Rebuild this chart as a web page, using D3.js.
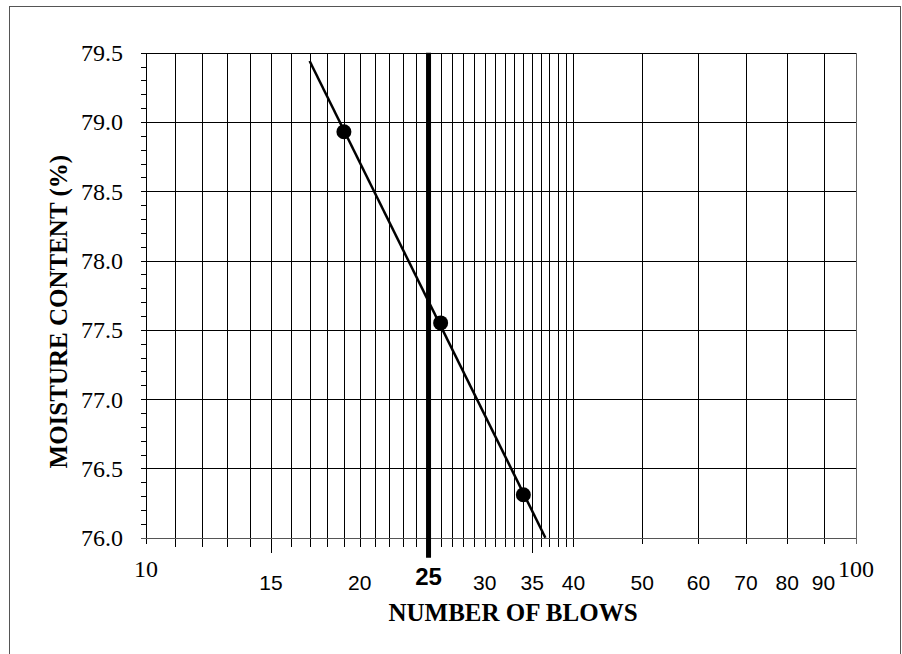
<!DOCTYPE html>
<html>
<head>
<meta charset="utf-8">
<script src="https://d3js.org/d3.v7.min.js"></script>
<style>
    body { margin: 0; background: #fff; }
    .serif { font-family: "Liberation Serif", "Times New Roman", serif; }
    .sans { font-family: "Liberation Sans", Arial, sans-serif; }
    .grid line { stroke: #000; stroke-width: 1px; shape-rendering: crispEdges; }
</style>
</head>
<body>
<svg id="chart" width="902" height="654"></svg>
<script>
    // liquid limit test: blows vs moisture content
    const blows = [19.0, 26.0, 34.0];
    const moisture = [78.93, 77.55, 76.31];

    // vertical grid lines on the semi-log paper
    const gridBlows = [11, 12, 13, 14, 15, 16, 17, 18, 19, 20, 21, 22, 23, 24, 25, 26, 27, 28, 29, 30,
                       31, 32, 33, 34, 35, 36, 37, 38, 39, 40, 50, 60, 70, 80, 90];
    const longTickBlows = [15, 35];
    const xLabelsSans = [15, 20, 30, 35, 40, 50, 60, 70, 80, 90];
    const xLabelsSerif = [10, 100];
    const refBlows = 25;
    const yMajor = [76.0, 76.5, 77.0, 77.5, 78.0, 78.5, 79.0, 79.5];
    const trendStart = 17;
    const trendFloor = 76.0;

    const svg = d3.select("#chart");
    const pLeft = 146, pRight = 856, pTop = 52.7, pBottom = 537.7;

    const x = d3.scaleLog().domain([10, 100]).range([pLeft, pRight]);
    const y = d3.scaleLinear().domain([76, 79.5]).range([pBottom, pTop]);

    // outer frame
    svg.append("rect")
        .attr("x", 9.5).attr("y", 6.5)
        .attr("width", 891).attr("height", 700)
        .attr("fill", "none").attr("stroke", "#555").attr("stroke-width", 1);

    // horizontal grid + major ticks
    const grid = svg.append("g").attr("class", "grid");
    grid.selectAll("line.h").data(yMajor)
        .join("line").attr("class", "h")
        .attr("x1", pLeft - 5).attr("x2", pRight)
        .attr("y1", d => Math.round(y(d)) + 0.5).attr("y2", d => Math.round(y(d)) + 0.5);

    // minor y ticks (outward)
    const yAxis = d3.axisLeft(y).ticks(35).tickSize(5).tickFormat("");
    const ya = svg.append("g").attr("transform", `translate(${pLeft},0)`).call(yAxis);
    ya.select(".domain").remove();
    ya.selectAll("line").attr("stroke", "#000").attr("shape-rendering", "crispEdges");

    // vertical grid lines (with short ticks below axis)
    grid.selectAll("line.v").data(gridBlows.filter(d => d !== refBlows))
        .join("line").attr("class", "v")
        .attr("x1", d => Math.round(x(d)) + 0.5).attr("x2", d => Math.round(x(d)) + 0.5)
        .attr("y1", pTop)
        .attr("y2", d => longTickBlows.includes(d) ? pBottom + 15 : (d <= 40 ? pBottom + 9 : pBottom + 6));

    // plot border
    svg.append("line").attr("x1", pLeft + 0.5).attr("x2", pLeft + 0.5).attr("y1", pTop).attr("y2", pBottom + 6)
        .attr("stroke", "#000").attr("shape-rendering", "crispEdges");
    svg.append("line").attr("x1", pRight + 0.5).attr("x2", pRight + 0.5).attr("y1", pTop).attr("y2", pBottom + 6)
        .attr("stroke", "#666").attr("stroke-width", 1.5).attr("shape-rendering", "crispEdges");
    svg.append("line").attr("x1", pLeft - 5).attr("x2", pRight).attr("y1", pBottom + 0.5).attr("y2", pBottom + 0.5)
        .attr("stroke", "#555").attr("shape-rendering", "crispEdges");

    // thick 25-blow line
    svg.append("line")
        .attr("x1", x(refBlows)).attr("x2", x(refBlows))
        .attr("y1", pTop).attr("y2", pBottom + 20)
        .attr("stroke", "#000").attr("stroke-width", 5);

    // y tick labels
    svg.append("g").selectAll("text").data(yMajor)
        .join("text").attr("class", "serif")
        .attr("x", 123).attr("y", d => y(d) + 8.5)
        .attr("text-anchor", "end").attr("font-size", 24)
        .text(d => d.toFixed(1));

    // x tick labels
    svg.append("g").selectAll("text").data(xLabelsSans)
        .join("text").attr("class", "sans")
        .attr("x", d => x(d)).attr("y", 590)
        .attr("text-anchor", "middle").attr("font-size", 21)
        .text(d => d);
    svg.append("g").selectAll("text").data(xLabelsSerif)
        .join("text").attr("class", "serif")
        .attr("x", d => x(d)).attr("y", 576.5)
        .attr("text-anchor", "middle").attr("font-size", 24)
        .text(d => d);
    svg.append("text").attr("class", "sans")
        .attr("x", x(refBlows)).attr("y", 585)
        .attr("text-anchor", "middle").attr("font-size", 24).attr("font-weight", "bold")
        .text(refBlows);

    // axis titles
    svg.append("text").attr("class", "serif")
        .attr("x", 513).attr("y", 620.5)
        .attr("text-anchor", "middle").attr("font-size", 25).attr("font-weight", "bold")
        .text("NUMBER OF BLOWS");
    svg.append("text").attr("class", "serif")
        .attr("transform", "translate(66.5,311.7) rotate(-90)")
        .attr("text-anchor", "middle").attr("font-size", 25).attr("font-weight", "bold")
        .text("MOISTURE CONTENT (%)");

    // least squares trend line in log(blows)
    const lx = blows.map(Math.log10);
    const mx = d3.mean(lx), my = d3.mean(moisture);
    const slope = d3.sum(lx, (d, i) => (d - mx) * (moisture[i] - my)) / d3.sum(lx, d => (d - mx) ** 2);
    const fit = b => my + slope * (Math.log10(b) - mx);
    const trendEnd = Math.pow(10, mx + (trendFloor - my) / slope);
    const line = d3.line().x(d => x(d)).y(d => y(fit(d)));
    svg.append("path")
        .datum([trendStart, trendEnd])
        .attr("d", line)
        .attr("fill", "none").attr("stroke", "#000").attr("stroke-width", 2.5);

    // data points
    svg.append("g").selectAll("circle").data(blows)
        .join("circle")
        .attr("cx", d => x(d)).attr("cy", (d, i) => y(moisture[i]))
        .attr("r", 7.5).attr("fill", "#000");
</script>
</body>
</html>
